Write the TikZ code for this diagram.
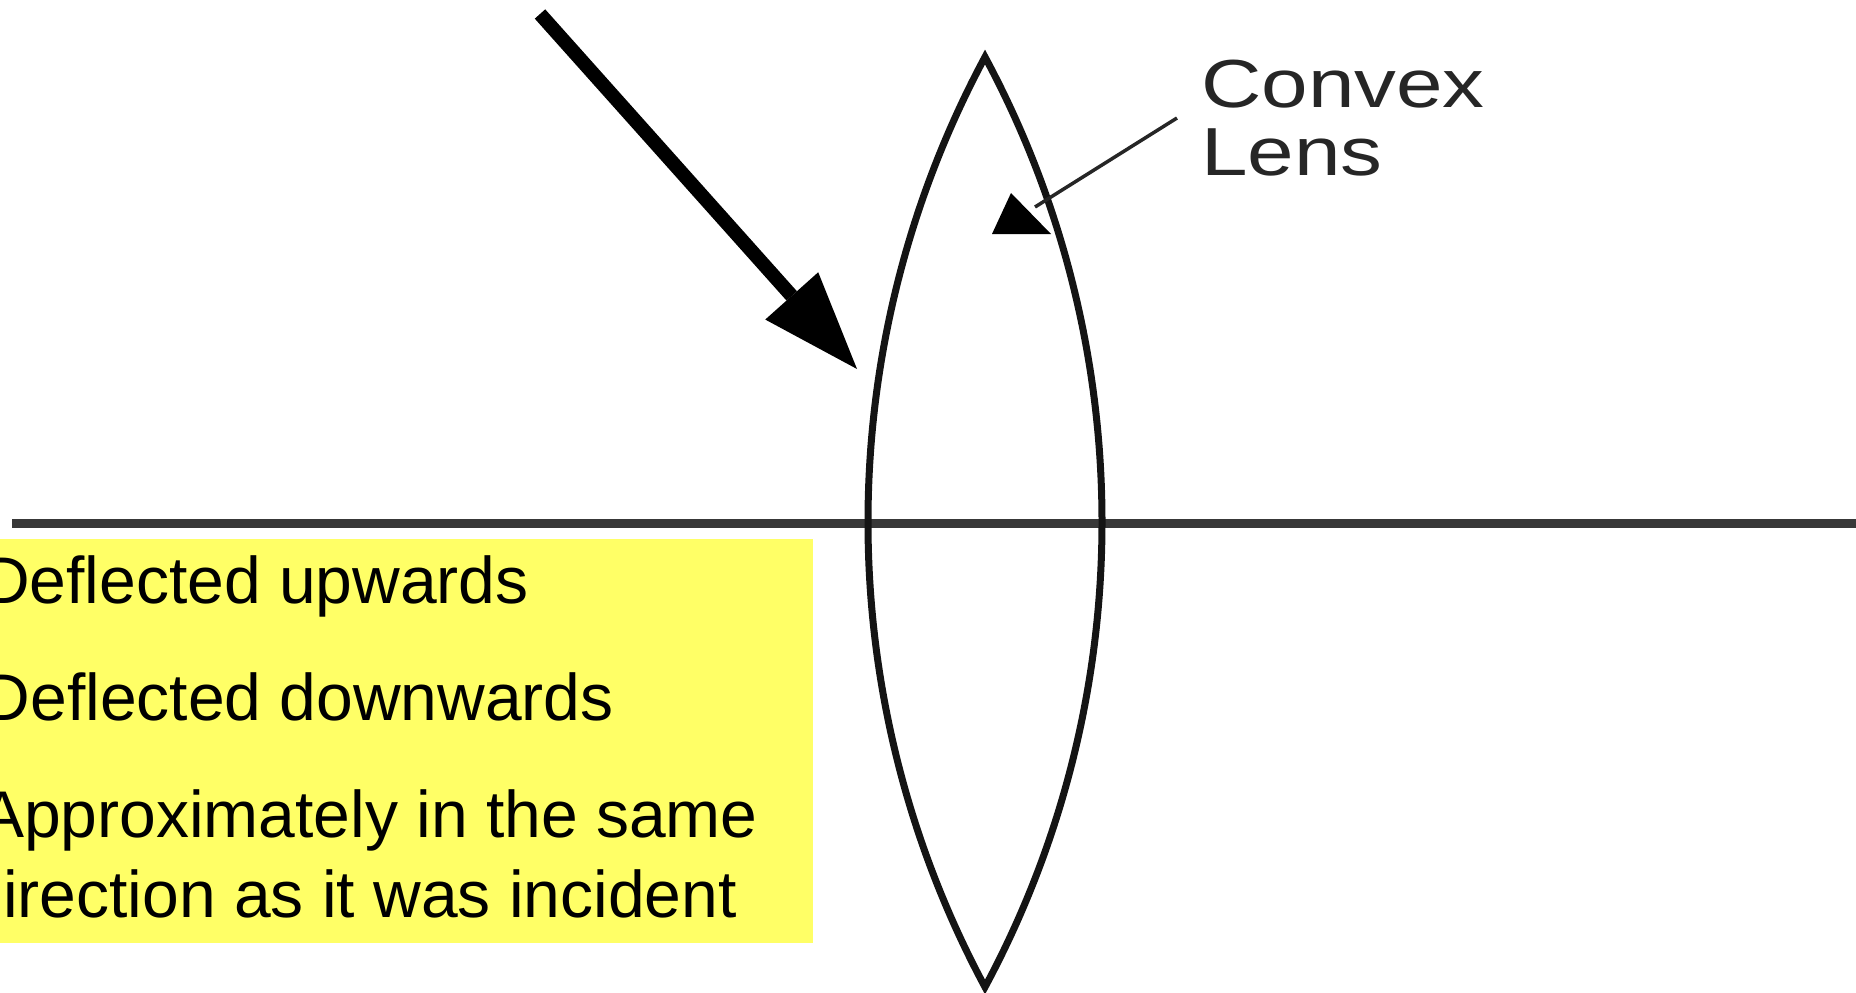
\documentclass[tikz,border=0pt]{standalone}
\usepackage{fontspec}
\setmainfont{Liberation Sans}
\newfontfamily\lensfont[FakeStretch=1.23]{Liberation Sans}
\usetikzlibrary{arrows.meta}
\definecolor{boxyellow}{HTML}{FFFF66}
\definecolor{axisgray}{HTML}{383838}
\definecolor{lensblack}{HTML}{141414}
\definecolor{labelgray}{HTML}{262626}
\begin{document}
\begin{tikzpicture}[x=1pt,y=-1pt,
  answer/.style={anchor=base east, inner sep=0pt, font=\fontsize{66}{79}\selectfont, text=black},
  lbl/.style={anchor=base west, inner sep=0pt, font=\lensfont\fontsize{68}{68}\selectfont, text=labelgray},
  axisline/.style={draw=axisgray, line width=9pt},
  lensline/.style={draw=lensblack, line width=7pt, line join=miter},
  bigarrow/.style={draw=black, line width=14pt, -{Triangle[length=98pt,width=71pt,line width=0pt]}},
  pointer/.style={draw=labelgray, line width=3.5pt}]
\useasboundingbox (0,0) rectangle (1856,993);
\clip (0,0) rectangle (1856,993);
% yellow answer box
\node[name=box, fill=boxyellow, minimum width=813pt, minimum height=404pt, inner sep=0pt, anchor=north west] at (0,539) {};
% answers
\node[answer, name=a1] at (529,603) {Deflected upwards};
\node[answer, name=a2] at (614,720) {Deflected downwards};
\node[answer, name=a3] at (758,837) {Approximately in the same};
\node[answer, name=a4] at (737,917) {direction as it was incident};
% principal axis
\coordinate (axL) at (12,523);
\coordinate (axR) at (1860,523);
\draw[axisline] (axL) -- (axR);
% lens
\coordinate (lensTop) at (985,57);
\draw[lensline] (lensTop) arc[start angle=208.25, end angle=151.75, radius=982.5]
  arc[start angle=28.25, end angle=-28.25, radius=982.5] -- cycle;
% incident ray
\coordinate (rayTail) at (540,14);
\coordinate (rayTip) at (857,369);
\draw[bigarrow] (rayTail) -- (rayTip);
% label
\node[lbl, name=conv] at (1201,107) {Convex};
\node[lbl, name=lens] at (1201,175) {Lens};
\coordinate (lblStart) at (1177,118);
\coordinate (ptr) at (1035,207);
\draw[pointer] (lblStart) -- (ptr);
\fill[black] (992,234) -- (1011,193) -- (1051,234) -- cycle;
\end{tikzpicture}
\end{document}
